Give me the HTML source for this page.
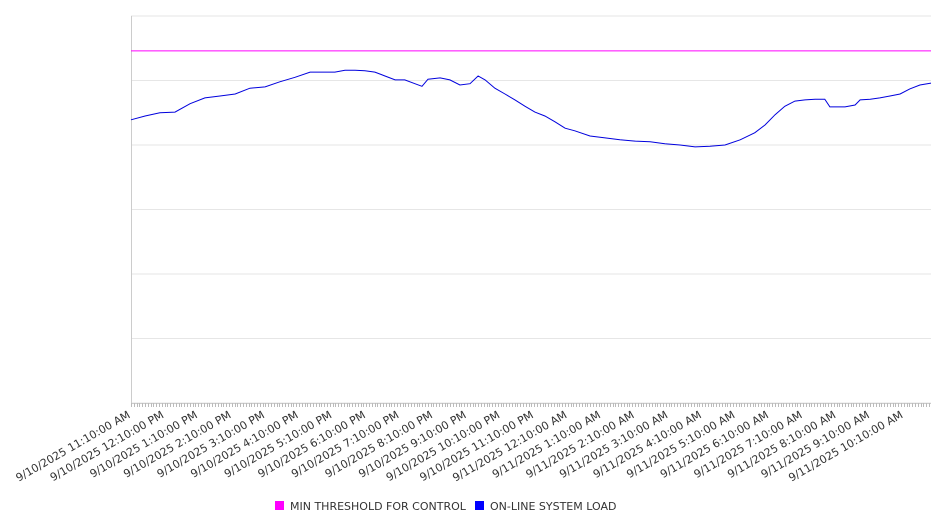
<!DOCTYPE html>
<html><head><meta charset="utf-8"><style>
html,body{margin:0;padding:0;background:#fff;}
svg{display:block;font-family:"DejaVu Sans","Liberation Sans",sans-serif;}
</style></head><body>
<svg id="chart" width="946" height="526" viewBox="0 0 946 526" xmlns="http://www.w3.org/2000/svg">
<g id="grid"></g>
<g id="xaxis"></g>
<g id="series"></g>
<g id="legend">
<rect x="275" y="501" width="9" height="9" fill="#ff00ff"/>
<text x="290" y="510" font-size="11" fill="#333">MIN THRESHOLD FOR CONTROL</text>
<rect x="475" y="501" width="9" height="9" fill="#0000ff"/>
<text x="490" y="510" font-size="11" fill="#333">ON-LINE SYSTEM LOAD</text>
</g>
</svg>
<script>
const xLabels = ["9/10/2025 11:10:00 AM","9/10/2025 12:10:00 PM","9/10/2025 1:10:00 PM","9/10/2025 2:10:00 PM","9/10/2025 3:10:00 PM","9/10/2025 4:10:00 PM","9/10/2025 5:10:00 PM","9/10/2025 6:10:00 PM","9/10/2025 7:10:00 PM","9/10/2025 8:10:00 PM","9/10/2025 9:10:00 PM","9/10/2025 10:10:00 PM","9/10/2025 11:10:00 PM","9/11/2025 12:10:00 AM","9/11/2025 1:10:00 AM","9/11/2025 2:10:00 AM","9/11/2025 3:10:00 AM","9/11/2025 4:10:00 AM","9/11/2025 5:10:00 AM","9/11/2025 6:10:00 AM","9/11/2025 7:10:00 AM","9/11/2025 8:10:00 AM","9/11/2025 9:10:00 AM","9/11/2025 10:10:00 AM"];
const loadHours = [0,0.42,0.86,1.31,1.76,2.20,2.65,3.10,3.54,3.99,4.43,4.88,5.33,5.77,6.07,6.37,6.67,6.96,7.26,7.56,7.86,8.15,8.45,8.66,8.84,9.20,9.49,9.79,10.09,10.33,10.54,10.83,11.13,11.43,11.73,12.02,12.32,12.62,12.92,13.21,13.66,14.11,14.55,15.0,15.45,15.89,16.34,16.79,17.23,17.68,18.13,18.57,18.87,19.17,19.46,19.76,20.06,20.36,20.65,20.80,20.95,21.25,21.55,21.70,22.0,22.29,22.59,22.89,23.18,23.48,23.81];
const loadValues = [439,445,450,451,464,473,476,479,488,490,498,505,513,513,513,516,516,515,513,507,501,501,495,491,502,504,501,493,495,507,501,488,479,470,460,451,445,436,426,422,414,411,408,406,405,402,400,397,398,400,408,419,431,447,460,468,470,471,471,459,459,459,462,470,471,473,476,479,487,493,496];
const thresholdValue = 546;
const yTicks = [0,100,200,300,400,500,600];

const X0=131,X1=931,Y0=403,Y1=16,HMAX=23.81,VMAX=600;
const xs=h=>X0+(X1-X0)*h/HMAX;
const ys=v=>Y0-(Y0-Y1)*v/VMAX;
const NS="http://www.w3.org/2000/svg";
function mk(tag,attrs,parent){const e=document.createElementNS(NS,tag);for(const k in attrs)e.setAttribute(k,attrs[k]);parent.appendChild(e);return e;}
const grid=document.getElementById('grid'),xa=document.getElementById('xaxis'),se=document.getElementById('series');
yTicks.forEach(t=>{const l=mk('line',{x1:X0,x2:X1,y1:ys(t),y2:ys(t),stroke:'#e6e6e6','stroke-width':1},grid);

});
const ax=mk('line',{x1:X0+0.5,x2:X0+0.5,y1:Y1,y2:Y0,stroke:'#ccc'},xa);


const bl=mk('line',{x1:X0,x2:X1,y1:Y0+0.5,y2:Y0+0.5,stroke:'#ccc'},xa);


for(let m=0;m<=HMAX*60;m+=5){const x=Math.round(xs(m/60))+0.5;const tk=mk('line',{x1:x,x2:x,y1:Y0,y2:Y0+4,stroke:'#bbb'},xa);

}
xLabels.forEach((s,i)=>{const x=xs(i);const t=mk('text',{x:x,y:Y0+14,'font-size':11,fill:'#333','text-anchor':'end',transform:`rotate(-30 ${x} ${Y0+14})`},xa);t.textContent=s;

});
const th=mk('line',{x1:X0,x2:X1,y1:ys(thresholdValue),y2:ys(thresholdValue),stroke:'#ff00ff','stroke-width':1},se);


const d=loadHours.map((h,i)=>(i?'L':'M')+xs(h).toFixed(1)+','+ys(loadValues[i]).toFixed(1)).join('');
const p=mk('path',{d:d,fill:'none',stroke:'#0000dd','stroke-width':1},se);


</script>
</body></html>
